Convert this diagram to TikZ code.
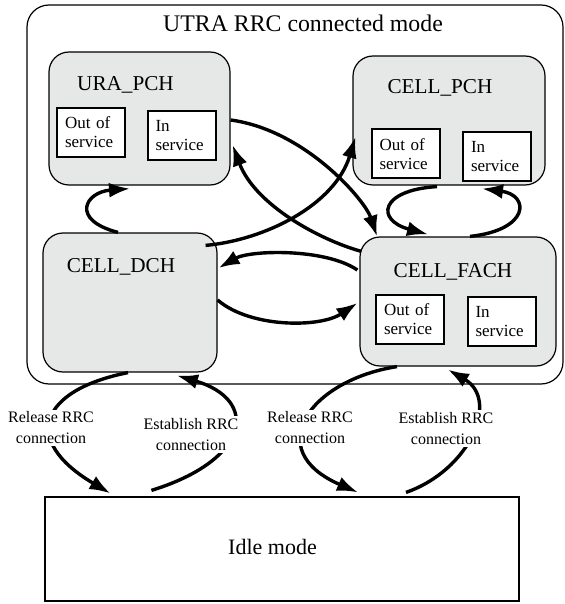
\documentclass[tikz,border=0pt]{standalone}
\usepackage{fontspec}
\setmainfont{Liberation Serif}
\usepackage{tikz}
\usetikzlibrary{arrows.meta, calc, positioning}
\definecolor{stategray}{RGB}{230,231,231}
\tikzset{>={Latex[length=10.5pt,width=7.5pt]}}
\tikzset{state/.style={draw, fill=stategray, rounded corners=10pt, line width=0.6pt, inner sep=0pt},
  svcbox/.style={draw, fill=white, line width=1pt, minimum width=34pt, minimum height=24.5pt,
    text width=26pt, inner xsep=4pt, inner ysep=0pt, align=left, font=\fontsize{8.5}{9.5}\selectfont},
  statename/.style={anchor=base, font=\fontsize{10.6}{12}\selectfont},
  trans/.style={->, line width=1.7pt},
  rrclabel/.style={fill=white, align=center, inner sep=1pt, font=\fontsize{8}{10.5}\selectfont}}

\begin{document}
\begin{tikzpicture}[x=0.5pt, y=-0.5pt]
  \useasboundingbox (0,0) rectangle (565,604); %
  % connected mode frame
  \node[draw, rounded corners=11pt, line width=0.6pt, minimum width=268pt, minimum height=189.5pt] (rrc) at (295,194.5) {}; %
  \node[anchor=base, font=\fontsize{11.9}{14}\selectfont] (rrcname) at (303,32) {UTRA RRC connected mode}; %
  % states
  \node[state, minimum width=90.5pt, minimum height=66.5pt] (ura) at (139.5,118.5) {}; %
  \node[state, minimum width=96pt, minimum height=64.5pt] (cpch) at (449,120.5) {}; %
  \node[state, minimum width=87pt, minimum height=69.5pt] (dch) at (130,302.5) {}; %
  \node[state, minimum width=98pt, minimum height=64.5pt] (fach) at (458,301.5) {}; %
  \node[draw, line width=0.6pt, minimum width=237pt, minimum height=52pt] (idle) at (282,549) {}; %
  \node[statename] (uraname) at (125.5,91) {URA\_PCH}; %
  \node[statename] (cpchname) at (440,94) {CELL\_PCH}; %
  \node[statename] (dchname) at (121,272) {CELL\_DCH}; %
  \node[statename] (fachname) at (453,277) {CELL\_FACH}; %
  \node[anchor=base, font=\fontsize{11}{13}\selectfont] (idlename) at (272.5,554) {Idle mode}; %
  % service boxes
  \node[svcbox] (uraout) at (91,132.5) {Out of service}; %
  \node[svcbox] (urain) at (181.5,135.5) {In\\service}; %
  \node[svcbox] (cpchout) at (405.5,154) {Out of service}; %
  \node[svcbox] (cpchin) at (497,156.5) {In\\service}; %
  \node[svcbox] (fachout) at (410,319.5) {Out of service}; %
  \node[svcbox] (fachin) at (501.5,321.5) {In\\service}; %
  % transitions inside connected mode
  \draw[trans] ($(dch.north)+(-12,0)$) .. controls (70,220) and (85,192) .. ($(ura.south)+(-9.5,3)$); %
  \draw[trans] ($(ura.east)+(0,1.5)$) .. controls (305,130) and (365,200) .. ($(fach.north)+(-81,0)$); %
  \draw[trans] ($(fach.north west)+(2,15)$) .. controls (320,240) and (255,205) .. ($(ura.east)+(2,26.5)$); %
  \draw[trans] ($(dch.north east)+(-12,13)$) .. controls (265,240) and (335,205) .. ($(cpch.west)+(3,16.5)$); %
  \draw[trans] ($(fach.west)+(-2,-31.5)$) .. controls (325,248) and (250,250) .. ($(dch.east)+(1,-34.5)$); %
  \draw[trans] ($(dch.east)+(0,-2.5)$) .. controls (250,328) and (320,328) .. ($(fach.west)+(-2,1.5)$); %
  \draw[trans] ($(cpch.south)+(-12,1)$) .. controls (380,190) and (375,220) .. ($(fach.north)+(-30,-2)$); %
  \draw[trans] ($(fach.north)+(12,0)$) .. controls (530,230) and (530,195) .. ($(cpch.south)+(33,3)$); %
  % release / establish
  \draw[trans] ($(dch.south)+(-2,0)$) .. controls (40,390) and (20,440) .. ($(idle.north west)+(66,-3)$); %
  \draw[trans] ($(idle.north west)+(107,-6)$) .. controls (250,460) and (260,400) .. ($(dch.south)+(47,3)$); %
  \draw[trans] ($(fach.south)+(-61,0)$) .. controls (310,380) and (260,450) .. ($(idle.north)+(76,-4)$); %
  \draw[trans] ($(idle.north)+(124,-4)$) .. controls (470,470) and (500,400) .. ($(fach.south)+(-10,3)$); %
  \node[rrclabel] (relA) at (51,428) {Release RRC\\connection}; %
  \node[rrclabel] (estA) at (191,434.5) {Establish RRC\\connection}; %
  \node[rrclabel] (relB) at (310,428) {Release RRC\\connection}; %
  \node[rrclabel] (estB) at (446,428.5) {Establish RRC\\connection}; %
\end{tikzpicture}
\end{document}
